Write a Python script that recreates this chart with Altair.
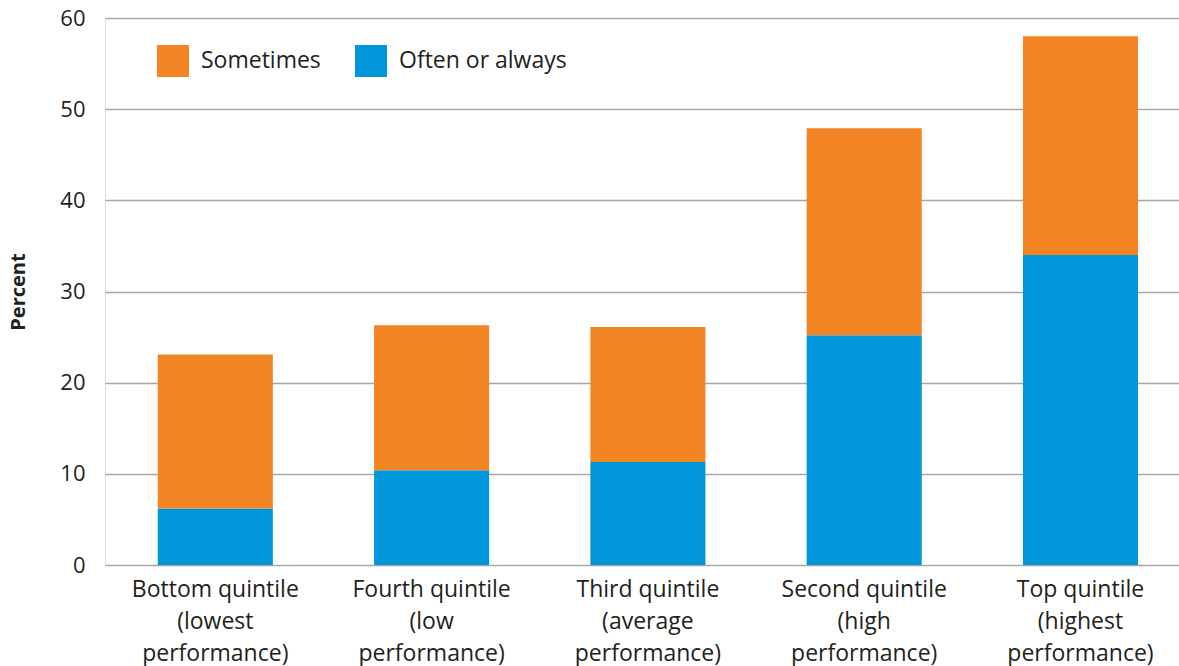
import altair as alt
import pandas as pd

categories = [
    "Bottom quintile|(lowest|performance)",
    "Fourth quintile|(low|performance)",
    "Third quintile|(average|performance)",
    "Second quintile|(high|performance)",
    "Top quintile|(highest|performance)",
]
often_or_always = [6.2, 10.4, 11.3, 25.2, 34.0]
sometimes = [16.9, 15.9, 14.8, 22.7, 24.0]

series = ["Sometimes", "Often or always"]
colors = ["#F38423", "#0097DA"]

rows = []
for c, o, s in zip(categories, often_or_always, sometimes):
    rows.append({"category": c, "series": "Often or always", "value": o, "ord": 0})
    rows.append({"category": c, "series": "Sometimes", "value": s, "ord": 1})
df = pd.DataFrame(rows)

FONT = "Open Sans"
TXT = "#231F20"

chart = alt.Chart(df).mark_bar().encode(
    x=alt.X(
        "category:N",
        sort=categories,
        scale=alt.Scale(paddingInner=0.468, paddingOuter=0.2167, align=0.563),
        axis=alt.Axis(
            title=None,
            labelAngle=0,
            labelExpr="split(datum.label, '|')",
            labelFontSize=23,
            labelLineHeight=32,
            labelFont=FONT,
            labelColor=TXT,
            labelPadding=13,
            ticks=False,
            domain=False,
            labelLimit=300,
        ),
    ),
    y=alt.Y(
        "value:Q",
        stack="zero",
        scale=alt.Scale(domain=[0, 60], nice=False),
        axis=alt.Axis(
            title="Percent",
            values=[0, 10, 20, 30, 40, 50, 60],
            titleFont=FONT,
            titleFontSize=20,
            titleFontWeight="bold",
            titleColor=TXT,
            titleX=-77,
            labelFont=FONT,
            labelFontSize=22,
            labelColor=TXT,
            labelPadding=20,
            ticks=False,
            domain=False,
            grid=True,
            gridColor="#A6A6A6",
            gridWidth=1.5,
        ),
    ),
    color=alt.Color(
        "series:N",
        scale=alt.Scale(domain=series, range=colors),
        legend=alt.Legend(
            title=None,
            orient="none",
            legendX=52,
            legendY=27,
            direction="horizontal",
            symbolType="square",
            symbolSize=1024,
            symbolStrokeWidth=0,
            symbolOpacity=1,
            labelFont=FONT,
            labelFontSize=23,
            labelColor=TXT,
            labelOffset=12,
            columnPadding=34,
            labelLimit=300,
        ),
    ),
    order=alt.Order("ord:Q", sort="ascending"),
).properties(
    width=1074,
    height=547,
    autosize=alt.AutoSizeParams(type="none"),
    padding={"left": 105, "top": 18, "right": 0, "bottom": 101},
).configure_view(stroke=None).configure(background="white")

chart.save("out.html", embed_options={"renderer": "svg", "actions": False})
